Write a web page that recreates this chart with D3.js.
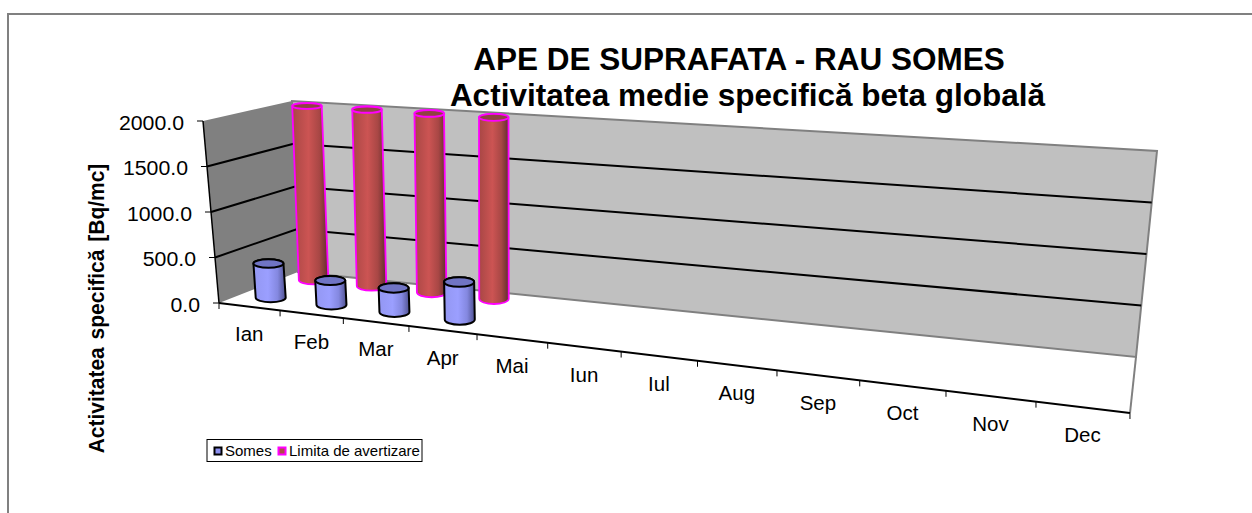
<!DOCTYPE html>
<html>
<head>
<meta charset="utf-8">
<script src="https://cdn.jsdelivr.net/npm/d3@7"></script>
<style>
  html, body { margin: 0; padding: 0; background: #fff; }
  text { font-family: "Liberation Sans", Arial, sans-serif; fill: #000; }
</style>
</head>
<body>
<svg id="chart" width="1252" height="513"></svg>
<script>
// Values
const months = ['Ian', 'Feb', 'Mar', 'Apr', 'Mai', 'Iun', 'Iul', 'Aug', 'Sep', 'Oct', 'Nov', 'Dec'];
const somes = [380, 265, 260, 400, null, null, null, null, null, null, null, null];
const limita = [2000, 2000, 2000, 2000, null, null, null, null, null, null, null, null];
const yTicks = [0, 500, 1000, 1500, 2000];
const seriesNames = ['Somes', 'Limita de avertizare'];
const titleLines = ['APE DE SUPRAFATA - RAU SOMES', 'Activitatea medie specifică beta globală'];
const yTitle = 'Activitatea specifică [Bq/mc]';

const svg = d3.select('#chart');

// Corners of the 3D box as they land on the page
const floorFront = [[219, 303], [1130, 413]];
const floorBack = [[298, 272], [1136, 357]];
const topFront = [[203, 121], [1160, 193]];
const topBack = [[292, 101], [1157, 151]];

const yScale = d3.scaleLinear().domain([0, 2000]).range([0, 1]);
// months get wider towards the right, perspective of the box
const xScale = (u) => 0.06586 * u / (1 - 0.01747 * u);

const mix = (a, b, t) => [a[0] + (b[0] - a[0]) * t, a[1] + (b[1] - a[1]) * t];

let project = (u, depth, value) => {
  let w = xScale(u);
  let t = yScale(value);
  let low = mix(mix(floorFront[0], floorFront[1], w), mix(floorBack[0], floorBack[1], w), depth);
  let high = mix(mix(topFront[0], topFront[1], w), mix(topBack[0], topBack[1], w), depth);
  return mix(low, high, t);
};

let poly = (points) => 'M' + points.map((p) => p.join(',')).join('L') + 'Z';
let line = (a, b) => 'M' + a.join(',') + 'L' + b.join(',');

// Gradients for the cylinders
let defs = svg.append('defs');
let addGradient = (id, stops) => {
  let g = defs.append('linearGradient').attr('id', id);
  stops.forEach((s) => {
    g.append('stop').attr('offset', s[0]).attr('stop-color', s[1]);
  });
};
addGradient('redBody', [[0, '#a84745'], [0.45, '#cc5453'], [0.75, '#a84745'], [1, '#5f2e2d']]);
addGradient('blueBody', [[0, '#9397f2'], [0.45, '#9b9fff'], [0.75, '#8488e0'], [1, '#4f5190']]);

// Chart frame, only top and left are inside the picture
svg.append('path')
  .attr('d', 'M8,513V14H1252')
  .attr('fill', 'none')
  .attr('stroke', '#808080')
  .attr('stroke-width', 2);

// Walls and floor
svg.append('path')
  .attr('d', poly([floorFront[0], topFront[0], topBack[0], floorBack[0]]))
  .attr('fill', '#808080');
svg.append('path')
  .attr('d', poly([floorBack[0], topBack[0], topBack[1], floorBack[1]]))
  .attr('fill', '#c0c0c0')
  .attr('stroke', '#808080')
  .attr('stroke-width', 2);
svg.append('path')
  .attr('d', line(floorBack[1], floorFront[1]))
  .attr('stroke', '#808080')
  .attr('stroke-width', 2);

// Gridlines and y ticks
yTicks.forEach((v) => {
  let a = project(0, 0, v);
  let b = project(0, 1, v);
  let c = project(12, 1, v);
  if (v > 0 && v < 2000) {
    svg.append('path')
      .attr('d', 'M' + a.join(',') + 'L' + b.join(',') + 'L' + c.join(','))
      .attr('fill', 'none')
      .attr('stroke', '#000')
      .attr('stroke-width', 2);
  }
  svg.append('path')
    .attr('d', line([a[0] - 6, a[1]], a))
    .attr('stroke', '#000')
    .attr('stroke-width', 1);
  // the picture is a bit wider than tall, labels are stretched
  svg.append('text')
    .attr('transform', 'translate(' + (a[0] - 19) + ',' + (a[1] + 8.5) + ') scale(1.08,1)')
    .attr('text-anchor', 'end')
    .attr('font-size', 19.7)
    .text(d3.format('.1f')(v));
});

// Axes lines
svg.append('path')
  .attr('d', line(project(0, 0, 0), project(0, 0, 2000)))
  .attr('stroke', '#000')
  .attr('stroke-width', 1.5);
svg.append('path')
  .attr('d', line(project(0, 0, 0), project(12, 0, 0)))
  .attr('stroke', '#000')
  .attr('stroke-width', 2);

// Month ticks and labels
d3.range(0, 13).forEach((u) => {
  let p = project(u, 0, 0);
  svg.append('path')
    .attr('d', line(p, [p[0], p[1] + 6]))
    .attr('stroke', '#000')
    .attr('stroke-width', 1);
});
months.forEach((m, i) => {
  let p = project(i + 0.5, 0, 0);
  svg.append('text')
    .attr('x', p[0])
    .attr('y', p[1] + 34.5)
    .attr('text-anchor', 'middle')
    .attr('font-size', 20.5)
    .text(m);
});

// One cylinder
let cylinder = (i, depth, value, barWidth, bodyFill, topFill, stroke, strokeWidth) => {
  let rx = barWidth / 2;
  let low = project(i + 0.5, depth, 0);
  let high = project(i + 0.5, depth, value);
  let ryOf = (v) => (project(i + 0.5, depth - 0.14, v)[1] - project(i + 0.5, depth + 0.14, v)[1]) / 2;
  let ryLow = ryOf(0);
  let ryHigh = ryOf(value);
  svg.append('path')
    .attr('d', 'M' + (high[0] - rx) + ',' + high[1]
      + 'L' + (low[0] - rx) + ',' + low[1]
      + 'A' + rx + ',' + ryLow + ' 0 0 0 ' + (low[0] + rx) + ',' + low[1]
      + 'L' + (high[0] + rx) + ',' + high[1]
      + 'A' + rx + ',' + ryHigh + ' 0 0 0 ' + (high[0] - rx) + ',' + high[1] + 'Z')
    .attr('fill', 'url(#' + bodyFill + ')')
    .attr('stroke', stroke)
    .attr('stroke-width', strokeWidth);
  svg.append('ellipse')
    .attr('cx', high[0])
    .attr('cy', high[1])
    .attr('rx', rx)
    .attr('ry', ryHigh)
    .attr('fill', topFill)
    .attr('stroke', stroke)
    .attr('stroke-width', strokeWidth);
};

// back row first, the front row covers it
limita.forEach((v, i) => {
  if (v !== null) cylinder(i, 0.84, v, 29.5, 'redBody', '#8f4241', '#ff00ff', 1.8);
});
somes.forEach((v, i) => {
  if (v !== null) cylinder(i, 0.28, v, 30, 'blueBody', '#7074c4', '#000', 2);
});

// Titles
svg.append('text')
  .attr('x', 739)
  .attr('y', 70)
  .attr('text-anchor', 'middle')
  .attr('font-size', 31.5)
  .attr('font-weight', 'bold')
  .text(titleLines[0]);
svg.append('text')
  .attr('x', 747.5)
  .attr('y', 106)
  .attr('text-anchor', 'middle')
  .attr('font-size', 31.5)
  .attr('font-weight', 'bold')
  .text(titleLines[1]);
svg.append('text')
  .attr('transform', 'translate(104,308.5) rotate(-90) scale(1,1.05)')
  .attr('text-anchor', 'middle')
  .attr('font-size', 21)
  .attr('font-weight', 'bold')
  .attr('word-spacing', 2)
  .text(yTitle);

// Legend
svg.append('rect')
  .attr('x', 207)
  .attr('y', 439.5)
  .attr('width', 215)
  .attr('height', 22)
  .attr('fill', '#fff')
  .attr('stroke', '#000')
  .attr('stroke-width', 1);
svg.append('rect')
  .attr('x', 214.5)
  .attr('y', 447.5)
  .attr('width', 7)
  .attr('height', 7)
  .attr('fill', '#8c90f0')
  .attr('stroke', '#000')
  .attr('stroke-width', 2);
svg.append('text')
  .attr('x', 225)
  .attr('y', 456)
  .attr('font-size', 15)
  .text(seriesNames[0]);
svg.append('rect')
  .attr('x', 278.5)
  .attr('y', 447.5)
  .attr('width', 7)
  .attr('height', 7)
  .attr('fill', '#b04a48')
  .attr('stroke', '#ff00ff')
  .attr('stroke-width', 2);
svg.append('text')
  .attr('x', 289)
  .attr('y', 456)
  .attr('font-size', 15)
  .text(seriesNames[1]);
</script>
</body>
</html>
